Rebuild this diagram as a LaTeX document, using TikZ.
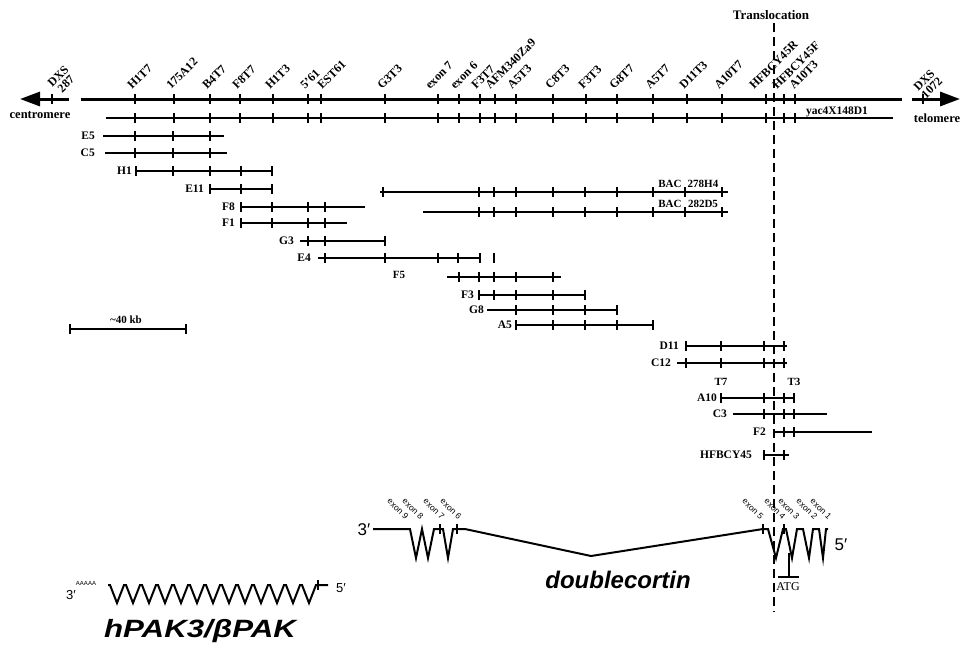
\documentclass[tikz,border=0pt]{standalone}
\usepackage{fontspec}
\setmainfont{Liberation Serif}
\newfontfamily\genefont{Liberation Sans}
\usetikzlibrary{arrows.meta}

\begin{document}
\begin{tikzpicture}[x=1pt,y=-1pt,
  mapline/.style={line width=3pt},
  yacline/.style={line width=2.4pt},
  clone/.style={line width=1.2pt},
  tick/.style={line width=1.2pt},
  mklabel/.style={rotate=45,anchor=base west,inner sep=0pt,
                  font=\fontsize{12}{12}\selectfont\bfseries},
  clonelabel/.style={anchor=east,inner sep=1pt,font=\fontsize{11.5}{13}\selectfont\bfseries},
  smalllabel/.style={font=\fontsize{11}{12}\selectfont\bfseries},
  exonlabel/.style={rotate=-45,anchor=base east,inner sep=0pt,
                    font=\genefont\fontsize{8.5}{9}\selectfont},
  gene/.style={line width=2pt,line join=miter},
  primelabel/.style={font=\genefont\fontsize{17}{20}\selectfont}
]
  \useasboundingbox (0,0) rectangle (961,646);

  % chromosome map
  \draw[mapline,-{Triangle[length=20pt,width=14pt]}] (69,99) -- (20,99);
  \draw[mapline] (81,99) -- (902,99);
  \draw[mapline,-{Triangle[length=20pt,width=14pt]}] (912,99) -- (960,99);
  \draw[yacline] (106,118) -- (893,118);
  \draw[tick] (52,94) -- (52,104) (923,94) -- (923,104);
  \node[font=\fontsize{12.5}{13}\selectfont\bfseries] (cen) at (40,115) {centromere};
  \node[font=\fontsize{12.5}{13}\selectfont\bfseries] (tel) at (937,118) {telomere};
  \node[rotate=45,align=center,inner sep=0pt,font=\fontsize{12}{11}\selectfont\bfseries]
        (dxs287) at (62,80) {DXS\\287};
  \node[rotate=45,align=center,inner sep=0pt,font=\fontsize{12}{11}\selectfont\bfseries]
        (dxs1072) at (928,84) {DXS\\1072};
  \node[anchor=base,inner sep=0pt,font=\fontsize{11.5}{12}\selectfont\bfseries]
        (yac) at (837,114) {yac4X148D1};
  \foreach \x/\lx/\t [count=\i] in {135/132/H1T7,174/171/175A12,210/207/B4T7,240/237/F8T7,
      273/270/H1T3,308/305/5'61,321/322/EST61,385/382/G3T3,438/430/exon 7,459/455/exon 6,
      480/476/F3T7,495/490/AFM340Za9,516/512/A5T3,553/550/C8T3,586/583/F3T3,617/614/G8T7,
      653/650/A5T7,687/684/D11T3,722/719/A10T7,766/754/HFBCY45R,784/777/HFBCY45F,795/794/A10T3}{
    \node[mklabel] (mk\i) at (\lx,90) {\t};
    \draw[tick] (\x,94) -- (\x,104) (\x,113) -- (\x,123);
  }

  % translocation breakpoint
  \node[font=\fontsize{13}{14}\selectfont\bfseries] (trans) at (771,15) {Translocation};
  \draw[line width=1.3pt,dash pattern=on 9pt off 5pt] (trans.south -| 774,0) -- (774,612);

  % clones
  \node[clonelabel] (e5) at (96,136) {E5};
  \draw[clone] (103,136) -- (224,136) \foreach \x in {135,173,210} {(\x,136) +(0,-5) -- +(0,5)};
  \node[clonelabel] (c5) at (96,153) {C5};
  \draw[clone] (105,153) -- (227,153) \foreach \x in {135,173,210} {(\x,153) +(0,-5) -- +(0,5)};
  \node[clonelabel] (h1) at (133,171) {H1};
  \draw[clone] (136,171) -- (272,171) \foreach \x in {136,173,210,241,272} {(\x,171) +(0,-5) -- +(0,5)};
  \node[clonelabel] (e11) at (205,189) {E11};
  \draw[clone] (210,189) -- (272,189) \foreach \x in {210,241,272} {(\x,189) +(0,-5) -- +(0,5)};
  \node[clonelabel] (f8) at (236,207) {F8};
  \draw[clone] (241,207) -- (365,207) \foreach \x in {241,272,308,325} {(\x,207) +(0,-5) -- +(0,5)};
  \node[clonelabel] (f1) at (236,223) {F1};
  \draw[clone] (241,223) -- (347,223) \foreach \x in {241,272,308,325} {(\x,223) +(0,-5) -- +(0,5)};
  \node[clonelabel] (g3) at (295,241) {G3};
  \draw[clone] (300,241) -- (385,241) \foreach \x in {308,325,385} {(\x,241) +(0,-5) -- +(0,5)};
  \node[clonelabel] (e4) at (312,258) {E4};
  \draw[clone] (318,258) -- (480,258) \foreach \x in {325,385,438,458,480,494} {(\x,258) +(0,-5) -- +(0,5)};
  \node[smalllabel] (f5) at (399,275) {F5};
  \draw[clone] (447,277) -- (561,277) \foreach \x in {459,479,494,516,553} {(\x,277) +(0,-5) -- +(0,5)};
  \node[clonelabel] (f3) at (475,295) {F3};
  \draw[clone] (479,295) -- (585,295) \foreach \x in {479,494,516,553,585} {(\x,295) +(0,-5) -- +(0,5)};
  \node[clonelabel] (g8) at (485,310) {G8};
  \draw[clone] (487,310) -- (617,310) \foreach \x in {516,553,585,617} {(\x,310) +(0,-5) -- +(0,5)};
  \node[clonelabel] (a5) at (513,325) {A5};
  \draw[clone] (516,325) -- (653,325) \foreach \x in {516,553,585,617,653} {(\x,325) +(0,-5) -- +(0,5)};

  % BAC clones
  \draw[clone] (380,192) -- (728,192)
    \foreach \x in {383,479,494,516,553,585,617,653,685,722} {(\x,192) +(0,-5) -- +(0,5)};
  \node[smalllabel] (bac1) at (670,184) {BAC};
  \node[smalllabel] (h4) at (703,184) {278H4};
  \draw[clone] (423,212) -- (728,212)
    \foreach \x in {479,494,516,553,585,617,653,685,722} {(\x,212) +(0,-5) -- +(0,5)};
  \node[smalllabel] (bac2) at (670,204) {BAC};
  \node[smalllabel] (d5) at (703,204) {282D5};

  % clones at the breakpoint
  \node[clonelabel] (d11) at (680,346) {D11};
  \draw[clone] (686,346) -- (787,346) \foreach \x in {686,721,764,784} {(\x,346) +(0,-5) -- +(0,5)};
  \node[clonelabel] (c12) at (672,363) {C12};
  \draw[clone] (677,363) -- (787,363) \foreach \x in {686,721,764,784} {(\x,363) +(0,-5) -- +(0,5)};
  \node[smalllabel] (t7) at (721,382) {T7};
  \node[smalllabel] (t3) at (794,382) {T3};
  \node[clonelabel] (a10) at (718,398) {A10};
  \draw[clone] (721,398) -- (794,398) \foreach \x in {721,764,784,794} {(\x,398) +(0,-5) -- +(0,5)};
  \node[clonelabel] (c3) at (728,414) {C3};
  \draw[clone] (733,414) -- (827,414) \foreach \x in {764,784,794} {(\x,414) +(0,-5) -- +(0,5)};
  \node[clonelabel] (f2) at (767,432) {F2};
  \draw[clone] (775,432) -- (872,432) \foreach \x in {784,794} {(\x,432) +(0,-5) -- +(0,5)};
  \node[clonelabel] (hfbcy) at (753,455) {HFBCY45};
  \draw[clone] (764,455) -- (789,455) \foreach \x in {764,784} {(\x,455) +(0,-5) -- +(0,5)};

  % scale bar
  \draw[clone] (70,329) -- (186,329) (70,324) -- (70,334) (186,324) -- (186,334);
  \node[smalllabel] (kb) at (126,320) {\textasciitilde40 kb};

  % doublecortin
  \node[primelabel] (dc3) at (364,530) {3′};
  \draw[gene] (373,529) -- (410,529) -- (416,558) -- (422,529) -- (428,558) -- (434,529)
    -- (443,529) -- (448,558) -- (453,529) -- (465,529) -- (591,556) -- (763,529)
    -- (768,529) -- (776,558) -- (783,529) -- (786,529) -- (792,558) -- (797,529)
    -- (803,529) -- (809,558) -- (813,529) -- (819,529) -- (823,558) -- (826,529) -- (828,529);
  \draw[tick] (440,524) -- (440,534) (457,524) -- (457,534) (763,524) -- (763,534) (784,524) -- (784,534);
  \draw[tick] (789,553) -- (789,577) (778,577) -- (799,577);
  \node[font=\fontsize{12}{13}\selectfont] (atg) at (788,587) {ATG};
  \node[primelabel] (dc5) at (841,545) {5′};
  \foreach \x/\t [count=\i] in {405/exon 9,420/exon 8,441/exon 7,458/exon 6,
      760/exon 5,782/exon 4,796/exon 3,814/exon 2,828/exon 1}{
    \node[exonlabel] (ex\i) at (\x,520) {\t};
  }
  \node[font=\genefont\bfseries\itshape\fontsize{24}{28}\selectfont] (dcx) at (618,580) {doublecortin};

  % hPAK3
  \node[font=\genefont\fontsize{6}{7}\selectfont] (polya) at (86,583) {AAAAA};
  \node[font=\genefont\fontsize{13}{15}\selectfont] (pk3) at (71,595) {3′};
  \draw[gene] (108,585) \foreach \i in {1,...,13} { -- ++(2,0) -- ++(7,18) -- ++(7,-18) } -- (328,585);
  \draw[tick] (318,580) -- (318,590);
  \node[font=\genefont\fontsize{13}{15}\selectfont] (pk5) at (341,588) {5′};
  \node[font=\genefont\bfseries\itshape\fontsize{25}{28}\selectfont,xscale=1.25] (pak) at (200,631) {hPAK3/βPAK};
\end{tikzpicture}
\end{document}
